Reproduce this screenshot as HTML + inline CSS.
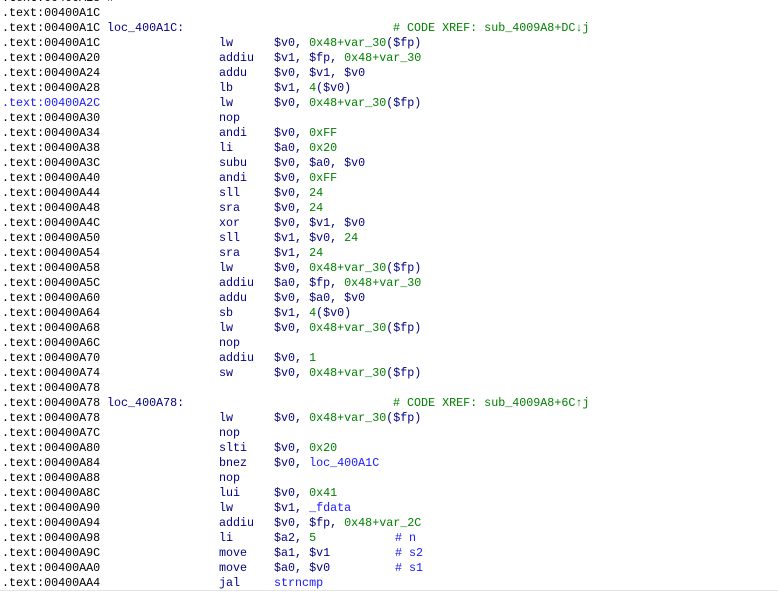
<!DOCTYPE html>
<html><head><meta charset="utf-8"><style>
html,body{margin:0;padding:0;background:#fff;width:778px;height:592px;overflow:hidden}
#v{position:relative;width:778px;height:592px;font-family:"Liberation Mono",monospace;font-size:11.7px;line-height:15px}
.r{position:absolute;left:0;height:15px;white-space:pre}
.r span{position:absolute;top:0}
.a{left:2px;color:#000}
.ab{left:2px;color:#1a1aff}
.l{left:107px;color:#000080}
.m{left:219px;color:#000080}
.o{left:274px;color:#000080}
.x{left:393px;color:#008000}
.c{left:395px;color:#1a1aff}
g{color:#008000}b{color:#1a1aff;font-weight:normal}
#bl{position:absolute;left:0;top:590px;width:778px;height:1px;background:#e4e4e4}
</style></head><body><div id="v">
<div class="r" style="top:-9.5px"><span class="a">.text:00400A18 #</span></div>
<div class="r" style="top:5.5px"><span class="a">.text:00400A1C</span></div>
<div class="r" style="top:20.5px"><span class="a">.text:00400A1C</span><span class="l">loc_400A1C:</span><span class="x"># CODE XREF: sub_4009A8+DC↓j</span></div>
<div class="r" style="top:35.5px"><span class="a">.text:00400A1C</span><span class="m">lw</span><span class="o">$v0, <g>0x48+var_30</g>($fp)</span></div>
<div class="r" style="top:50.5px"><span class="a">.text:00400A20</span><span class="m">addiu</span><span class="o">$v1, $fp, <g>0x48+var_30</g></span></div>
<div class="r" style="top:65.5px"><span class="a">.text:00400A24</span><span class="m">addu</span><span class="o">$v0, $v1, $v0</span></div>
<div class="r" style="top:80.5px"><span class="a">.text:00400A28</span><span class="m">lb</span><span class="o">$v1, <g>4</g>($v0)</span></div>
<div class="r" style="top:95.5px"><span class="ab">.text:00400A2C</span><span class="m">lw</span><span class="o">$v0, <g>0x48+var_30</g>($fp)</span></div>
<div class="r" style="top:110.5px"><span class="a">.text:00400A30</span><span class="m">nop</span></div>
<div class="r" style="top:125.5px"><span class="a">.text:00400A34</span><span class="m">andi</span><span class="o">$v0, <g>0xFF</g></span></div>
<div class="r" style="top:140.5px"><span class="a">.text:00400A38</span><span class="m">li</span><span class="o">$a0, <g>0x20</g></span></div>
<div class="r" style="top:155.5px"><span class="a">.text:00400A3C</span><span class="m">subu</span><span class="o">$v0, $a0, $v0</span></div>
<div class="r" style="top:170.5px"><span class="a">.text:00400A40</span><span class="m">andi</span><span class="o">$v0, <g>0xFF</g></span></div>
<div class="r" style="top:185.5px"><span class="a">.text:00400A44</span><span class="m">sll</span><span class="o">$v0, <g>24</g></span></div>
<div class="r" style="top:200.5px"><span class="a">.text:00400A48</span><span class="m">sra</span><span class="o">$v0, <g>24</g></span></div>
<div class="r" style="top:215.5px"><span class="a">.text:00400A4C</span><span class="m">xor</span><span class="o">$v0, $v1, $v0</span></div>
<div class="r" style="top:230.5px"><span class="a">.text:00400A50</span><span class="m">sll</span><span class="o">$v1, $v0, <g>24</g></span></div>
<div class="r" style="top:245.5px"><span class="a">.text:00400A54</span><span class="m">sra</span><span class="o">$v1, <g>24</g></span></div>
<div class="r" style="top:260.5px"><span class="a">.text:00400A58</span><span class="m">lw</span><span class="o">$v0, <g>0x48+var_30</g>($fp)</span></div>
<div class="r" style="top:275.5px"><span class="a">.text:00400A5C</span><span class="m">addiu</span><span class="o">$a0, $fp, <g>0x48+var_30</g></span></div>
<div class="r" style="top:290.5px"><span class="a">.text:00400A60</span><span class="m">addu</span><span class="o">$v0, $a0, $v0</span></div>
<div class="r" style="top:305.5px"><span class="a">.text:00400A64</span><span class="m">sb</span><span class="o">$v1, <g>4</g>($v0)</span></div>
<div class="r" style="top:320.5px"><span class="a">.text:00400A68</span><span class="m">lw</span><span class="o">$v0, <g>0x48+var_30</g>($fp)</span></div>
<div class="r" style="top:335.5px"><span class="a">.text:00400A6C</span><span class="m">nop</span></div>
<div class="r" style="top:350.5px"><span class="a">.text:00400A70</span><span class="m">addiu</span><span class="o">$v0, <g>1</g></span></div>
<div class="r" style="top:365.5px"><span class="a">.text:00400A74</span><span class="m">sw</span><span class="o">$v0, <g>0x48+var_30</g>($fp)</span></div>
<div class="r" style="top:380.5px"><span class="a">.text:00400A78</span></div>
<div class="r" style="top:395.5px"><span class="a">.text:00400A78</span><span class="l">loc_400A78:</span><span class="x"># CODE XREF: sub_4009A8+6C↑j</span></div>
<div class="r" style="top:410.5px"><span class="a">.text:00400A78</span><span class="m">lw</span><span class="o">$v0, <g>0x48+var_30</g>($fp)</span></div>
<div class="r" style="top:425.5px"><span class="a">.text:00400A7C</span><span class="m">nop</span></div>
<div class="r" style="top:440.5px"><span class="a">.text:00400A80</span><span class="m">slti</span><span class="o">$v0, <g>0x20</g></span></div>
<div class="r" style="top:455.5px"><span class="a">.text:00400A84</span><span class="m">bnez</span><span class="o">$v0, <b>loc_400A1C</b></span></div>
<div class="r" style="top:470.5px"><span class="a">.text:00400A88</span><span class="m">nop</span></div>
<div class="r" style="top:485.5px"><span class="a">.text:00400A8C</span><span class="m">lui</span><span class="o">$v0, <g>0x41</g></span></div>
<div class="r" style="top:500.5px"><span class="a">.text:00400A90</span><span class="m">lw</span><span class="o">$v1, <b>_fdata</b></span></div>
<div class="r" style="top:515.5px"><span class="a">.text:00400A94</span><span class="m">addiu</span><span class="o">$v0, $fp, <g>0x48+var_2C</g></span></div>
<div class="r" style="top:530.5px"><span class="a">.text:00400A98</span><span class="m">li</span><span class="o">$a2, <g>5</g></span><span class="c"># n</span></div>
<div class="r" style="top:545.5px"><span class="a">.text:00400A9C</span><span class="m">move</span><span class="o">$a1, $v1</span><span class="c"># s2</span></div>
<div class="r" style="top:560.5px"><span class="a">.text:00400AA0</span><span class="m">move</span><span class="o">$a0, $v0</span><span class="c"># s1</span></div>
<div class="r" style="top:575.5px"><span class="a">.text:00400AA4</span><span class="m">jal</span><span class="o"><b>strncmp</b></span></div>
<div id="bl"></div>
</div></body></html>
